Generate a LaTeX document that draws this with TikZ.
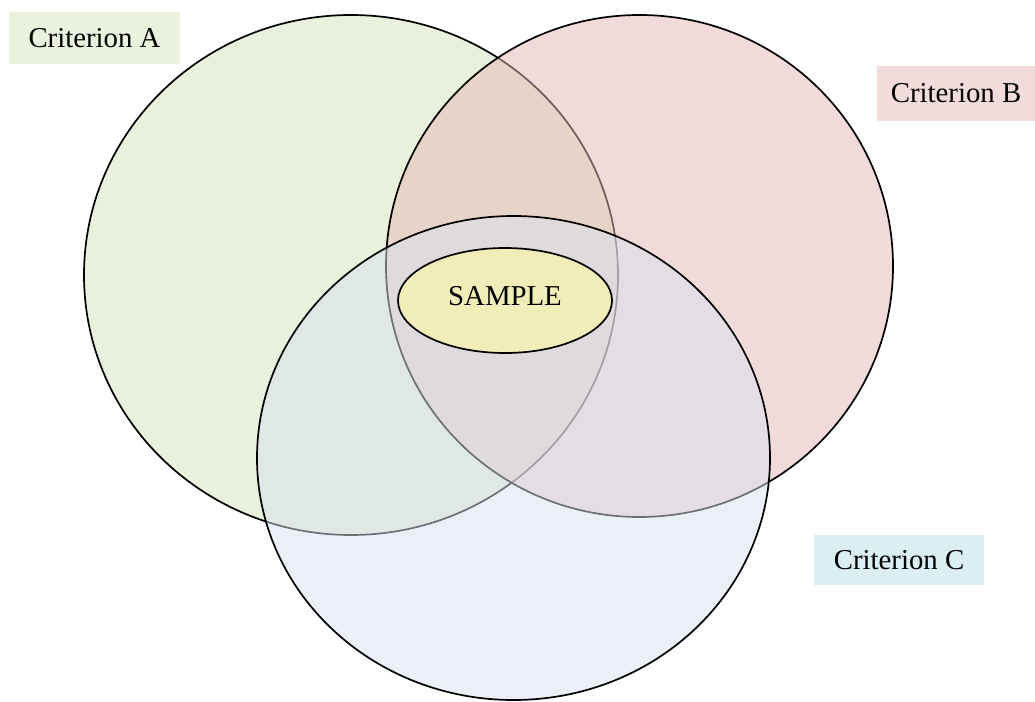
\documentclass[tikz,border=0pt]{standalone}
\usepackage{fontspec}
\setmainfont{Liberation Serif}
\usetikzlibrary{shapes.geometric}
\definecolor{fillA}{RGB}{213,227,187}
\definecolor{fillB}{RGB}{229,185,183}
\definecolor{fillC}{RGB}{217,225,239}
\definecolor{labA}{RGB}{234,241,221}
\definecolor{labB}{RGB}{242,220,219}
\definecolor{labC}{RGB}{218,238,243}
\definecolor{sampfill}{RGB}{240,237,185}
\begin{document}
\begin{tikzpicture}[x=1pt,y=-1pt,
  setcircle/.style={ellipse, draw=black, line width=1.7pt, fill opacity=0.5, inner sep=0pt},
  labelbox/.style={rectangle, inner sep=0pt, font=\fontsize{28.8}{34}\selectfont},
  txt/.style={font=\fontsize{28.8}{34}\selectfont}]
\useasboundingbox (0,0) rectangle (1035,701);
\fill[white] (0,0) rectangle (1035,701);
\node[setcircle, fill=fillA, minimum width=534pt, minimum height=520pt] (cA) at (351,275) {};
\node[setcircle, fill=fillB, minimum width=507pt, minimum height=502pt] (cB) at (639.5,266) {};
\node[setcircle, fill=fillC, minimum width=513pt, minimum height=484pt] (cC) at (513.5,458) {};
\node[ellipse, draw=black, line width=1.7pt, fill=sampfill, minimum width=214pt, minimum height=105pt, inner sep=0pt, txt] (samp) at (505,300.5) {};
\node[txt] (samptxt) at (505,296) {SAMPLE};
\node[labelbox, fill=labA, minimum width=171pt, minimum height=52pt] (lA) at (94.5,38) {Criterion A};
\node[labelbox, fill=labB, minimum width=158pt, minimum height=55pt] (lB) at (956,93.5) {Criterion B};
\node[labelbox, fill=labC, minimum width=170pt, minimum height=50pt] (lC) at (899,560) {Criterion C};
\end{tikzpicture}
\end{document}
